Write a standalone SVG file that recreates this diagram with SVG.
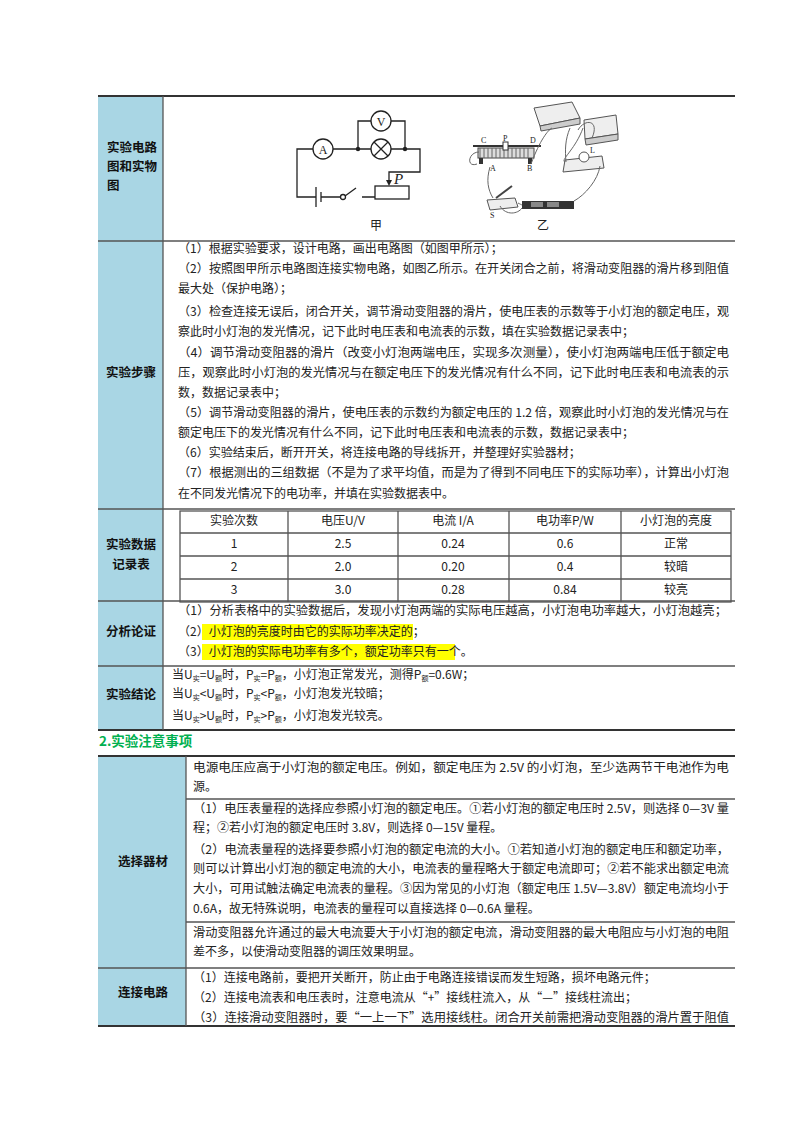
<svg xmlns="http://www.w3.org/2000/svg" width="800" height="1132" viewBox="0 0 800 1132">
<style>
text{font-family:"Noto Sans CJK SC","Noto Sans",sans-serif;fill:#222}
.b{font-size:12px}
.lab{font-size:12.5px;font-weight:bold;fill:#111}
.c{text-anchor:middle}
.ln{stroke:#555;stroke-width:1.3;fill:none}
.thick{stroke:#333;stroke-width:2;fill:none}
.w{stroke:#222;stroke-width:1.3;fill:none}
.g{stroke:#666;stroke-width:1;fill:none}
.sub{font-size:7px}
</style>
<rect width="800" height="1132" fill="#fff"/>
<!-- top table -->
<g id="left-col-top"><rect x="98" y="96" width="65" height="634" fill="#a9d6e4"/></g>
<g id="table-lines">
<line class="thick" x1="98" y1="96" x2="735" y2="96"/>
<line class="ln" x1="98" y1="241" x2="735" y2="241"/>
<line class="ln" x1="98" y1="509" x2="735" y2="509"/>
<line class="ln" x1="98" y1="601" x2="735" y2="601"/>
<line class="ln" x1="98" y1="666" x2="735" y2="666"/>
<line class="thick" x1="98" y1="730" x2="735" y2="730"/>
<line class="ln" x1="163" y1="96" x2="163" y2="730"/>
</g>
<g id="labels-top">
<text class="lab" x="107" y="152">实验电路</text>
<text class="lab" x="107" y="171">图和实物</text>
<text class="lab" x="107" y="190">图</text>
<text class="lab c" x="131" y="377">实验步骤</text>
<text class="lab c" x="131" y="549">实验数据</text>
<text class="lab c" x="131" y="569">记录表</text>
<text class="lab c" x="131" y="636">分析论证</text>
<text class="lab c" x="131" y="699">实验结论</text>
</g>
<!-- circuit 甲 -->
<g id="circuit-jia">
<path class="w" d="M313,149 H297 V197 H316 M321,197 H340 M362,197 H375 M333,149 H371 M391,149 H420 V172 H389 V182"/>
<path class="w" d="M358,149 V121 H371 M391,121 H405 V149"/>
<circle class="w" cx="323" cy="149" r="10"/>
<text x="323" y="153.5" class="c" style="font-family:'Liberation Serif',serif;font-size:12px">A</text>
<circle class="w" cx="381" cy="121" r="10"/>
<text x="381" y="125.5" class="c" style="font-family:'Liberation Serif',serif;font-size:12px">V</text>
<circle class="w" cx="381" cy="149" r="10"/>
<path class="w" d="M374,142 L388,156 M388,142 L374,156"/>
<circle cx="358" cy="149" r="2.2" fill="#222"/>
<circle cx="405" cy="149" r="2.2" fill="#222"/>
<line class="w" x1="316" y1="187" x2="316" y2="207"/>
<line class="w" x1="321" y1="192" x2="321" y2="202"/>
<circle class="w" cx="343" cy="197" r="2.5"/>
<line class="w" x1="345" y1="196" x2="356" y2="188"/>
<rect class="w" x="375" y="186" width="34" height="13"/>
<path d="M386,180 L392,180 L389,186 Z" fill="#222"/>
<text x="394" y="184" style="font-family:'Liberation Serif',serif;font-style:italic;font-size:15px">P</text>
<text class="b c" x="376" y="230">甲</text>
</g>
<!-- picture 乙 -->
<g id="circuit-yi">
<rect x="478" y="148" width="56" height="10" fill="#ddd" stroke="#444"/>
<path class="g" d="M480,148 v10 M484,148 v10 M488,148 v10 M492,148 v10 M496,148 v10 M500,148 v10 M504,148 v10 M508,148 v10 M512,148 v10 M516,148 v10 M520,148 v10 M524,148 v10 M528,148 v10"/>
<line stroke="#333" stroke-width="2" x1="473" y1="146" x2="541" y2="146"/>
<rect x="503" y="142" width="5" height="8" fill="#fff" stroke="#333"/>
<rect x="479" y="158" width="4" height="6" fill="#333"/><rect x="528" y="158" width="4" height="6" fill="#333"/>
<text x="481" y="143" style="font-family:'Liberation Serif',serif;font-size:8px">C</text>
<text x="503" y="141" style="font-family:'Liberation Serif',serif;font-size:8px">P</text>
<text x="530" y="143" style="font-family:'Liberation Serif',serif;font-size:8px">D</text>
<text x="490" y="171" style="font-family:'Liberation Serif',serif;font-size:8px">A</text>
<text x="527" y="171" style="font-family:'Liberation Serif',serif;font-size:8px">B</text>
<path class="g" d="M479,152 C468,152 466,168 477,164"/>
<path d="M534,108 L572,102 L580,118 L540,126 Z" fill="#eee" stroke="#555"/>
<path d="M540,126 L580,118 L580,124 L541,131 Z" fill="#ccc" stroke="#555"/>
<path d="M584,120 L616,115 L618,134 L585,139 Z" fill="#eee" stroke="#555"/>
<path d="M585,139 L618,134 L618,140 L586,145 Z" fill="#ccc" stroke="#555"/>
<path d="M565,160 L602,156 L604,168 L563,172 Z" fill="#eee" stroke="#555"/>
<circle cx="584" cy="157" r="5" fill="#fff" stroke="#555"/>
<text x="590" y="153" style="font-family:'Liberation Serif',serif;font-size:8px">L</text>
<path d="M487,200 L515,198 L518,207 L490,210 Z" fill="#eee" stroke="#555"/>
<line stroke="#444" stroke-width="2" x1="496" y1="198" x2="512" y2="186"/>
<text x="490" y="218" style="font-family:'Liberation Serif',serif;font-size:8px">S</text>
<rect x="522" y="201" width="52" height="8" fill="#333"/>
<rect x="531" y="202" width="12" height="5" fill="#888"/><rect x="547" y="202" width="12" height="5" fill="#888"/>
<path class="g" d="M531,164 C540,140 548,130 552,128 M592,138 C600,120 585,118 578,130 M570,128 C565,140 565,150 566,162 M600,166 C598,180 585,195 574,201 M518,203 C522,205 522,205 522,205 M490,167 C486,180 488,190 493,198 M500,206 C506,216 518,214 522,208 M583,128 C575,150 560,160 565,162"/>
<text class="b c" x="543" y="230">乙</text>
</g>
<!-- steps -->
<g id="steps" class="b">
<text class="b" x="178" y="253">（1）根据实验要求，设计电路，画出电路图（如图甲所示）；</text>
<text class="b" x="178" y="273" textLength="551" lengthAdjust="spacingAndGlyphs">（2）按照图甲所示电路图连接实物电路，如图乙所示。在开关闭合之前，将滑动变阻器的滑片移到阻值</text>
<text class="b" x="178" y="293">最大处（保护电路）；</text>
<text class="b" x="178" y="316" textLength="551" lengthAdjust="spacingAndGlyphs">（3）检查连接无误后，闭合开关，调节滑动变阻器的滑片，使电压表的示数等于小灯泡的额定电压，观</text>
<text class="b" x="178" y="336">察此时小灯泡的发光情况，记下此时电压表和电流表的示数，填在实验数据记录表中；</text>
<text class="b" x="178" y="357" textLength="551" lengthAdjust="spacingAndGlyphs">（4）调节滑动变阻器的滑片（改变小灯泡两端电压，实现多次测量），使小灯泡两端电压低于额定电</text>
<text class="b" x="178" y="377" textLength="551" lengthAdjust="spacingAndGlyphs">压，观察此时小灯泡的发光情况与在额定电压下的发光情况有什么不同，记下此时电压表和电流表的示</text>
<text class="b" x="178" y="397">数，数据记录表中；</text>
<text class="b" x="178" y="417" textLength="551" lengthAdjust="spacingAndGlyphs">（5）调节滑动变阻器的滑片，使电压表的示数约为额定电压的 1.2 倍，观察此时小灯泡的发光情况与在</text>
<text class="b" x="178" y="437">额定电压下的发光情况有什么不同，记下此时电压表和电流表的示数，数据记录表中；</text>
<text class="b" x="178" y="457">（6）实验结束后，断开开关，将连接电路的导线拆开，并整理好实验器材；</text>
<text class="b" x="178" y="477" textLength="551" lengthAdjust="spacingAndGlyphs">（7）根据测出的三组数据（不是为了求平均值，而是为了得到不同电压下的实际功率），计算出小灯泡</text>
<text class="b" x="178" y="498">在不同发光情况下的电功率，并填在实验数据表中。</text>
</g>
<!-- data table -->
<g id="data-table">
<rect class="ln" x="180" y="511" width="551" height="91"/>
<path class="ln" d="M180,533 H731 M180,556 H731 M180,579 H731 M288,511 V602 M398,511 V602 M509,511 V602 M621,511 V602"/>
<g class="b c">
<text class="b c" x="234" y="525">实验次数</text><text class="b c" x="343" y="525">电压U/V</text><text class="b c" x="453" y="525">电流 I/A</text><text class="b c" x="565" y="525">电功率P/W</text><text class="b c" x="676" y="525">小灯泡的亮度</text>
<text class="b c" x="234" y="548">1</text><text class="b c" x="343" y="548">2.5</text><text class="b c" x="453" y="548">0.24</text><text class="b c" x="565" y="548">0.6</text><text class="b c" x="676" y="548">正常</text>
<text class="b c" x="234" y="571">2</text><text class="b c" x="343" y="571">2.0</text><text class="b c" x="453" y="571">0.20</text><text class="b c" x="565" y="571">0.4</text><text class="b c" x="676" y="571">较暗</text>
<text class="b c" x="234" y="594">3</text><text class="b c" x="343" y="594">3.0</text><text class="b c" x="453" y="594">0.28</text><text class="b c" x="565" y="594">0.84</text><text class="b c" x="676" y="594">较亮</text>
</g>
</g>
<!-- analysis -->
<g id="analysis">
<rect x="202" y="624" width="211" height="16" fill="#ffff00"/>
<rect x="202" y="644" width="253" height="16" fill="#ffff00"/>
<text class="b" x="178" y="615" textLength="549" lengthAdjust="spacingAndGlyphs">（1）分析表格中的实验数据后，发现小灯泡两端的实际电压越高，小灯泡电功率越大，小灯泡越亮；</text>
<text class="b" x="178" y="636">（2）小灯泡的亮度时由它的实际功率决定的；</text>
<text class="b" x="178" y="656">（3）小灯泡的实际电功率有多个，额定功率只有一个。</text>
</g>
<!-- conclusion -->
<g id="conclusion">
<text class="b" x="172" y="679">当U<tspan class="sub" dy="2">实</tspan><tspan dy="-2">=U</tspan><tspan class="sub" dy="2">额</tspan><tspan dy="-2">时，P</tspan><tspan class="sub" dy="2">实</tspan><tspan dy="-2">=P</tspan><tspan class="sub" dy="2">额</tspan><tspan dy="-2">，小灯泡正常发光，测得P</tspan><tspan class="sub" dy="2">额</tspan><tspan dy="-2">=0.6W；</tspan></text>
<text class="b" x="172" y="698">当U<tspan class="sub" dy="2">实</tspan><tspan dy="-2">&lt;U</tspan><tspan class="sub" dy="2">额</tspan><tspan dy="-2">时，P</tspan><tspan class="sub" dy="2">实</tspan><tspan dy="-2">&lt;P</tspan><tspan class="sub" dy="2">额</tspan><tspan dy="-2">，小灯泡发光较暗；</tspan></text>
<text class="b" x="172" y="720">当U<tspan class="sub" dy="2">实</tspan><tspan dy="-2">&gt;U</tspan><tspan class="sub" dy="2">额</tspan><tspan dy="-2">时，P</tspan><tspan class="sub" dy="2">实</tspan><tspan dy="-2">&gt;P</tspan><tspan class="sub" dy="2">额</tspan><tspan dy="-2">，小灯泡发光较亮。</tspan></text>
</g>
<g id="heading"><text x="99" y="746" style="font-size:13.5px;font-weight:bold;fill:#00b050">2.实验注意事项</text></g>
<!-- lower table -->
<g id="left-col-bottom"><rect x="98" y="756" width="88" height="270" fill="#a9d6e4"/></g>
<g id="lower-lines">
<line class="thick" x1="98" y1="756" x2="735" y2="756"/>
<line class="ln" x1="186" y1="799" x2="735" y2="799"/>
<line class="ln" x1="186" y1="922" x2="735" y2="922"/>
<line class="ln" x1="98" y1="968" x2="735" y2="968"/>
<line class="thick" x1="98" y1="1026" x2="735" y2="1026"/>
<line class="ln" x1="186" y1="756" x2="186" y2="1026"/>
</g>
<g id="lower-labels">
<text class="lab c" x="143" y="866">选择器材</text>
<text class="lab c" x="143" y="997">连接电路</text>
</g>
<g id="lower-text">
<text class="b" x="193" y="772" textLength="536" lengthAdjust="spacingAndGlyphs">电源电压应高于小灯泡的额定电压。例如，额定电压为 2.5V 的小灯泡，至少选两节干电池作为电</text>
<text class="b" x="193" y="791">源。</text>
<text class="b" x="193" y="813" textLength="536" lengthAdjust="spacingAndGlyphs">（1）电压表量程的选择应参照小灯泡的额定电压。①若小灯泡的额定电压时 2.5V，则选择 0—3V 量</text>
<text class="b" x="193" y="832">程；②若小灯泡的额定电压时 3.8V，则选择 0—15V 量程。</text>
<text class="b" x="193" y="854" textLength="536" lengthAdjust="spacingAndGlyphs">（2）电流表量程的选择要参照小灯泡的额定电流的大小。①若知道小灯泡的额定电压和额定功率，</text>
<text class="b" x="193" y="873" textLength="536" lengthAdjust="spacingAndGlyphs">则可以计算出小灯泡的额定电流的大小，电流表的量程略大于额定电流即可；②若不能求出额定电流</text>
<text class="b" x="193" y="893" textLength="536" lengthAdjust="spacingAndGlyphs">大小，可用试触法确定电流表的量程。③因为常见的小灯泡（额定电压 1.5V—3.8V）额定电流均小于</text>
<text class="b" x="193" y="913">0.6A，故无特殊说明，电流表的量程可以直接选择 0—0.6A 量程。</text>
<text class="b" x="193" y="937" textLength="536" lengthAdjust="spacingAndGlyphs">滑动变阻器允许通过的最大电流要大于小灯泡的额定电流，滑动变阻器的最大电阻应与小灯泡的电阻</text>
<text class="b" x="193" y="956">差不多，以使滑动变阻器的调压效果明显。</text>
<text class="b" x="193" y="982">（1）连接电路前，要把开关断开，防止由于电路连接错误而发生短路，损坏电路元件；</text>
<text class="b" x="193" y="1002">（2）连接电流表和电压表时，注意电流从“+”接线柱流入，从“—”接线柱流出；</text>
<text class="b" x="193" y="1022" textLength="536" lengthAdjust="spacingAndGlyphs">（3）连接滑动变阻器时，要“一上一下”选用接线柱。闭合开关前需把滑动变阻器的滑片置于阻值</text>
</g>
</svg>
